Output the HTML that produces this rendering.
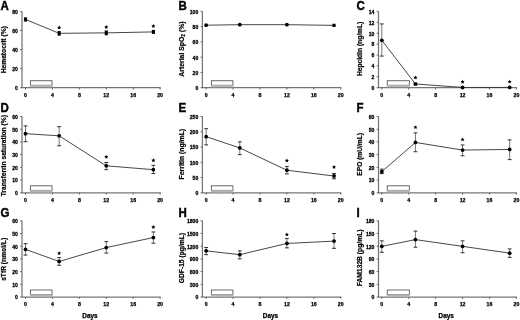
<!DOCTYPE html>
<html><head><meta charset="utf-8"><style>
html,body{margin:0;padding:0;background:#fff;}
svg{display:block;will-change:transform;}
text{font-family:"Liberation Sans",sans-serif;font-weight:bold;fill:#000;}
.L{font-size:11.5px;stroke:#000;stroke-width:0.4px;}
.Y{font-size:6.5px;stroke:#000;stroke-width:0.2px;}
.T{font-size:6.2px;stroke:#000;stroke-width:0.3px;}
.X{font-size:5.2px;stroke:#000;stroke-width:0.25px;}
.D{font-size:6.4px;stroke:#000;stroke-width:0.25px;}
.S{font-size:9px;}
.ax{fill:none;stroke:#767676;stroke-width:1.25;}
.tk{fill:none;stroke:#555;stroke-width:0.9;}
.bx{fill:#fff;stroke:#6a6a6a;stroke-width:1;}
.dl{fill:none;stroke:#333;stroke-width:0.9;}
.eb{fill:none;stroke:#555;stroke-width:0.8;}
.ec{fill:none;stroke:#222;stroke-width:0.95;}
.mk{fill:#000;}
</style></head><body>
<svg width="520" height="320" viewBox="0 0 520 320">
<rect width="520" height="320" fill="#fff"/>
<text transform="translate(0.5,9.6) scale(1,1.08)" class="L">A</text>
<text transform="translate(5.6,49.75000000000001) rotate(-90)" class="Y" text-anchor="middle" textLength="47.2" lengthAdjust="spacingAndGlyphs">Hematocrit (%)</text>
<path d="M22.0,11.4 V87.7 H160.70" class="ax"/>
<path d="M20.20,87.70 H22.0" class="tk"/>
<text x="17.90" y="90.05" class="T" text-anchor="end" textLength="2.84" lengthAdjust="spacingAndGlyphs">0</text>
<path d="M20.20,68.62 H22.0" class="tk"/>
<text x="17.90" y="70.97" class="T" text-anchor="end" textLength="5.68" lengthAdjust="spacingAndGlyphs">20</text>
<path d="M20.20,49.55 H22.0" class="tk"/>
<text x="17.90" y="51.90" class="T" text-anchor="end" textLength="5.68" lengthAdjust="spacingAndGlyphs">40</text>
<path d="M20.20,30.48 H22.0" class="tk"/>
<text x="17.90" y="32.83" class="T" text-anchor="end" textLength="5.68" lengthAdjust="spacingAndGlyphs">60</text>
<path d="M20.20,11.40 H22.0" class="tk"/>
<text x="17.90" y="13.75" class="T" text-anchor="end" textLength="5.68" lengthAdjust="spacingAndGlyphs">80</text>
<path d="M25.50,87.7 V89.50" class="tk"/>
<text x="25.50" y="97.00" class="X" text-anchor="middle">0</text>
<path d="M52.42,87.7 V89.50" class="tk"/>
<text x="52.42" y="97.00" class="X" text-anchor="middle">4</text>
<path d="M79.34,87.7 V89.50" class="tk"/>
<text x="79.34" y="97.00" class="X" text-anchor="middle">8</text>
<path d="M106.26,87.7 V89.50" class="tk"/>
<text x="106.26" y="97.00" class="X" text-anchor="middle">12</text>
<path d="M133.18,87.7 V89.50" class="tk"/>
<text x="133.18" y="97.00" class="X" text-anchor="middle">16</text>
<path d="M160.10,87.7 V89.50" class="tk"/>
<text x="160.10" y="97.00" class="X" text-anchor="middle">20</text>
<rect x="30.40" y="80.70" width="21.60" height="4.6" class="bx"/>
<rect x="29.90" y="85.00" width="22.60" height="2.3" fill="#b4b4b4"/>
<polyline points="25.50,19.41 59.15,33.34 106.26,32.86 153.37,31.91" class="dl"/>
<rect x="23.95" y="17.31" width="3.1" height="4.2" class="mk"/>
<rect x="57.60" y="31.04" width="3.1" height="4.6" class="mk"/>
<polygon points="59.15,25.55 59.77,26.80 61.15,27.00 60.15,27.97 60.38,29.35 59.15,28.70 57.92,29.35 58.15,27.97 57.15,27.00 58.53,26.80" fill="#000"/>
<rect x="104.71" y="30.46" width="3.1" height="4.8" class="mk"/>
<polygon points="106.26,25.05 106.88,26.30 108.26,26.50 107.26,27.47 107.49,28.85 106.26,28.20 105.03,28.85 105.26,27.47 104.26,26.50 105.64,26.30" fill="#000"/>
<rect x="151.82" y="29.91" width="3.1" height="4.0" class="mk"/>
<polygon points="153.37,24.05 153.99,25.30 155.37,25.50 154.37,26.47 154.60,27.85 153.37,27.20 152.14,27.85 152.37,26.47 151.37,25.50 152.75,25.30" fill="#000"/>
<text transform="translate(178.6,9.6) scale(1,1.08)" class="L">B</text>
<text transform="translate(183.7,49.050000000000004) rotate(-90)" class="Y" text-anchor="middle" textLength="55.2" lengthAdjust="spacingAndGlyphs">Arterial SpO<tspan font-size="4.6" dy="1.3">2</tspan><tspan dy="-1.3"> (%)</tspan></text>
<path d="M202.4,11.4 V87.7 H341.35" class="ax"/>
<path d="M200.60,87.70 H202.4" class="tk"/>
<text x="198.30" y="90.05" class="T" text-anchor="end" textLength="2.84" lengthAdjust="spacingAndGlyphs">0</text>
<path d="M200.60,72.44 H202.4" class="tk"/>
<text x="198.30" y="74.79" class="T" text-anchor="end" textLength="5.68" lengthAdjust="spacingAndGlyphs">20</text>
<path d="M200.60,57.18 H202.4" class="tk"/>
<text x="198.30" y="59.53" class="T" text-anchor="end" textLength="5.68" lengthAdjust="spacingAndGlyphs">40</text>
<path d="M200.60,41.92 H202.4" class="tk"/>
<text x="198.30" y="44.27" class="T" text-anchor="end" textLength="5.68" lengthAdjust="spacingAndGlyphs">60</text>
<path d="M200.60,26.66 H202.4" class="tk"/>
<text x="198.30" y="29.01" class="T" text-anchor="end" textLength="5.68" lengthAdjust="spacingAndGlyphs">80</text>
<path d="M200.60,11.40 H202.4" class="tk"/>
<text x="198.30" y="13.75" class="T" text-anchor="end" textLength="8.52" lengthAdjust="spacingAndGlyphs">100</text>
<path d="M206.15,87.7 V89.50" class="tk"/>
<text x="206.15" y="97.00" class="X" text-anchor="middle">0</text>
<path d="M233.07,87.7 V89.50" class="tk"/>
<text x="233.07" y="97.00" class="X" text-anchor="middle">4</text>
<path d="M259.99,87.7 V89.50" class="tk"/>
<text x="259.99" y="97.00" class="X" text-anchor="middle">8</text>
<path d="M286.91,87.7 V89.50" class="tk"/>
<text x="286.91" y="97.00" class="X" text-anchor="middle">12</text>
<path d="M313.83,87.7 V89.50" class="tk"/>
<text x="313.83" y="97.00" class="X" text-anchor="middle">16</text>
<path d="M340.75,87.7 V89.50" class="tk"/>
<text x="340.75" y="97.00" class="X" text-anchor="middle">20</text>
<rect x="211.40" y="80.70" width="21.50" height="4.6" class="bx"/>
<rect x="210.90" y="85.00" width="22.50" height="2.3" fill="#b4b4b4"/>
<polyline points="206.15,25.21 239.80,24.68 286.91,24.68 334.02,25.36" class="dl"/>
<circle cx="206.15" cy="25.21" r="1.9" class="mk"/>
<circle cx="239.80" cy="24.68" r="1.9" class="mk"/>
<circle cx="286.91" cy="24.68" r="1.9" class="mk"/>
<rect x="332.42" y="23.76" width="3.2" height="3.2" class="mk"/>
<text transform="translate(356.4,9.6) scale(1,1.08)" class="L">C</text>
<text transform="translate(361.5,48.900000000000006) rotate(-90)" class="Y" text-anchor="middle" textLength="54.4" lengthAdjust="spacingAndGlyphs">Hepcidin (ng/mL)</text>
<path d="M378.5,11.4 V87.7 H517.00" class="ax"/>
<path d="M376.70,87.70 H378.5" class="tk"/>
<text x="374.40" y="90.05" class="T" text-anchor="end" textLength="2.84" lengthAdjust="spacingAndGlyphs">0</text>
<path d="M376.70,76.80 H378.5" class="tk"/>
<text x="374.40" y="79.15" class="T" text-anchor="end" textLength="2.84" lengthAdjust="spacingAndGlyphs">2</text>
<path d="M376.70,65.90 H378.5" class="tk"/>
<text x="374.40" y="68.25" class="T" text-anchor="end" textLength="2.84" lengthAdjust="spacingAndGlyphs">4</text>
<path d="M376.70,55.00 H378.5" class="tk"/>
<text x="374.40" y="57.35" class="T" text-anchor="end" textLength="2.84" lengthAdjust="spacingAndGlyphs">6</text>
<path d="M376.70,44.10 H378.5" class="tk"/>
<text x="374.40" y="46.45" class="T" text-anchor="end" textLength="2.84" lengthAdjust="spacingAndGlyphs">8</text>
<path d="M376.70,33.20 H378.5" class="tk"/>
<text x="374.40" y="35.55" class="T" text-anchor="end" textLength="5.68" lengthAdjust="spacingAndGlyphs">10</text>
<path d="M376.70,22.30 H378.5" class="tk"/>
<text x="374.40" y="24.65" class="T" text-anchor="end" textLength="5.68" lengthAdjust="spacingAndGlyphs">12</text>
<path d="M376.70,11.40 H378.5" class="tk"/>
<text x="374.40" y="13.75" class="T" text-anchor="end" textLength="5.68" lengthAdjust="spacingAndGlyphs">14</text>
<path d="M381.80,87.7 V89.50" class="tk"/>
<text x="381.80" y="97.00" class="X" text-anchor="middle">0</text>
<path d="M408.72,87.7 V89.50" class="tk"/>
<text x="408.72" y="97.00" class="X" text-anchor="middle">4</text>
<path d="M435.64,87.7 V89.50" class="tk"/>
<text x="435.64" y="97.00" class="X" text-anchor="middle">8</text>
<path d="M462.56,87.7 V89.50" class="tk"/>
<text x="462.56" y="97.00" class="X" text-anchor="middle">12</text>
<path d="M489.48,87.7 V89.50" class="tk"/>
<text x="489.48" y="97.00" class="X" text-anchor="middle">16</text>
<path d="M516.40,87.7 V89.50" class="tk"/>
<text x="516.40" y="97.00" class="X" text-anchor="middle">20</text>
<rect x="387.30" y="80.70" width="22.10" height="4.6" class="bx"/>
<rect x="386.80" y="85.00" width="23.10" height="2.3" fill="#b4b4b4"/>
<polyline points="381.80,40.29 415.45,83.99 462.56,87.43 509.67,87.43" class="dl"/>
<path d="M381.80,23.94 V56.09" class="eb"/>
<path d="M379.90,23.94 H383.70 M379.90,56.09 H383.70" class="ec"/>
<circle cx="381.80" cy="40.29" r="1.9" class="mk"/>
<path d="M415.45,83.34 V84.98" class="eb"/>
<path d="M413.55,83.34 H417.35 M413.55,84.98 H417.35" class="ec"/>
<rect x="413.85" y="82.39" width="3.2" height="3.2" class="mk"/>
<polygon points="415.45,75.55 416.07,76.80 417.45,77.00 416.45,77.97 416.68,79.35 415.45,78.70 414.22,79.35 414.45,77.97 413.45,77.00 414.83,76.80" fill="#000"/>
<circle cx="462.56" cy="87.43" r="1.9" class="mk"/>
<polygon points="462.56,79.85 463.18,81.10 464.56,81.30 463.56,82.27 463.79,83.65 462.56,83.00 461.33,83.65 461.56,82.27 460.56,81.30 461.94,81.10" fill="#000"/>
<circle cx="509.67" cy="87.43" r="1.9" class="mk"/>
<polygon points="509.67,79.65 510.29,80.90 511.67,81.10 510.67,82.07 510.90,83.45 509.67,82.80 508.44,83.45 508.67,82.07 507.67,81.10 509.05,80.90" fill="#000"/>
<text transform="translate(0.5,111.9) scale(1,1.08)" class="L">D</text>
<text transform="translate(5.6,155.70000000000002) rotate(-90)" class="Y" text-anchor="middle" textLength="81.3" lengthAdjust="spacingAndGlyphs">Transferrin saturation (%)</text>
<path d="M22.0,116.5 V192.8 H160.70" class="ax"/>
<path d="M20.20,192.80 H22.0" class="tk"/>
<text x="17.90" y="195.15" class="T" text-anchor="end" textLength="2.84" lengthAdjust="spacingAndGlyphs">0</text>
<path d="M20.20,180.08 H22.0" class="tk"/>
<text x="17.90" y="182.43" class="T" text-anchor="end" textLength="5.68" lengthAdjust="spacingAndGlyphs">10</text>
<path d="M20.20,167.37 H22.0" class="tk"/>
<text x="17.90" y="169.72" class="T" text-anchor="end" textLength="5.68" lengthAdjust="spacingAndGlyphs">20</text>
<path d="M20.20,154.65 H22.0" class="tk"/>
<text x="17.90" y="157.00" class="T" text-anchor="end" textLength="5.68" lengthAdjust="spacingAndGlyphs">30</text>
<path d="M20.20,141.93 H22.0" class="tk"/>
<text x="17.90" y="144.28" class="T" text-anchor="end" textLength="5.68" lengthAdjust="spacingAndGlyphs">40</text>
<path d="M20.20,129.22 H22.0" class="tk"/>
<text x="17.90" y="131.57" class="T" text-anchor="end" textLength="5.68" lengthAdjust="spacingAndGlyphs">50</text>
<path d="M20.20,116.50 H22.0" class="tk"/>
<text x="17.90" y="118.85" class="T" text-anchor="end" textLength="5.68" lengthAdjust="spacingAndGlyphs">60</text>
<path d="M25.50,192.8 V194.60" class="tk"/>
<text x="25.50" y="202.10" class="X" text-anchor="middle">0</text>
<path d="M52.42,192.8 V194.60" class="tk"/>
<text x="52.42" y="202.10" class="X" text-anchor="middle">4</text>
<path d="M79.34,192.8 V194.60" class="tk"/>
<text x="79.34" y="202.10" class="X" text-anchor="middle">8</text>
<path d="M106.26,192.8 V194.60" class="tk"/>
<text x="106.26" y="202.10" class="X" text-anchor="middle">12</text>
<path d="M133.18,192.8 V194.60" class="tk"/>
<text x="133.18" y="202.10" class="X" text-anchor="middle">16</text>
<path d="M160.10,192.8 V194.60" class="tk"/>
<text x="160.10" y="202.10" class="X" text-anchor="middle">20</text>
<rect x="30.40" y="185.80" width="21.60" height="4.6" class="bx"/>
<rect x="29.90" y="190.10" width="22.60" height="2.3" fill="#b4b4b4"/>
<polyline points="25.50,133.67 59.15,135.83 106.26,165.84 153.37,169.66" class="dl"/>
<path d="M25.50,125.91 V141.68" class="eb"/>
<path d="M23.60,125.91 H27.40 M23.60,141.68 H27.40" class="ec"/>
<circle cx="25.50" cy="133.67" r="1.9" class="mk"/>
<path d="M59.15,126.67 V145.75" class="eb"/>
<path d="M57.25,126.67 H61.05 M57.25,145.75 H61.05" class="ec"/>
<circle cx="59.15" cy="135.83" r="1.9" class="mk"/>
<path d="M106.26,162.53 V169.66" class="eb"/>
<path d="M104.36,162.53 H108.16 M104.36,169.66 H108.16" class="ec"/>
<circle cx="106.26" cy="165.84" r="1.9" class="mk"/>
<polygon points="106.26,154.75 106.88,156.00 108.26,156.20 107.26,157.17 107.49,158.55 106.26,157.90 105.03,158.55 105.26,157.17 104.26,156.20 105.64,156.00" fill="#000"/>
<path d="M153.37,165.33 V173.47" class="eb"/>
<path d="M151.47,165.33 H155.27 M151.47,173.47 H155.27" class="ec"/>
<circle cx="153.37" cy="169.66" r="1.9" class="mk"/>
<polygon points="153.37,158.35 153.99,159.60 155.37,159.80 154.37,160.77 154.60,162.15 153.37,161.50 152.14,162.15 152.37,160.77 151.37,159.80 152.75,159.60" fill="#000"/>
<text transform="translate(178.6,111.9) scale(1,1.08)" class="L">E</text>
<text transform="translate(183.7,154.15) rotate(-90)" class="Y" text-anchor="middle" textLength="50.5" lengthAdjust="spacingAndGlyphs">Ferritin (ng/mL)</text>
<path d="M202.4,116.5 V192.8 H341.35" class="ax"/>
<path d="M200.60,192.80 H202.4" class="tk"/>
<text x="198.30" y="195.15" class="T" text-anchor="end" textLength="2.84" lengthAdjust="spacingAndGlyphs">0</text>
<path d="M200.60,177.54 H202.4" class="tk"/>
<text x="198.30" y="179.89" class="T" text-anchor="end" textLength="5.68" lengthAdjust="spacingAndGlyphs">50</text>
<path d="M200.60,162.28 H202.4" class="tk"/>
<text x="198.30" y="164.63" class="T" text-anchor="end" textLength="8.52" lengthAdjust="spacingAndGlyphs">100</text>
<path d="M200.60,147.02 H202.4" class="tk"/>
<text x="198.30" y="149.37" class="T" text-anchor="end" textLength="8.52" lengthAdjust="spacingAndGlyphs">150</text>
<path d="M200.60,131.76 H202.4" class="tk"/>
<text x="198.30" y="134.11" class="T" text-anchor="end" textLength="8.52" lengthAdjust="spacingAndGlyphs">200</text>
<path d="M200.60,116.50 H202.4" class="tk"/>
<text x="198.30" y="118.85" class="T" text-anchor="end" textLength="8.52" lengthAdjust="spacingAndGlyphs">250</text>
<path d="M206.15,192.8 V194.60" class="tk"/>
<text x="206.15" y="202.10" class="X" text-anchor="middle">0</text>
<path d="M233.07,192.8 V194.60" class="tk"/>
<text x="233.07" y="202.10" class="X" text-anchor="middle">4</text>
<path d="M259.99,192.8 V194.60" class="tk"/>
<text x="259.99" y="202.10" class="X" text-anchor="middle">8</text>
<path d="M286.91,192.8 V194.60" class="tk"/>
<text x="286.91" y="202.10" class="X" text-anchor="middle">12</text>
<path d="M313.83,192.8 V194.60" class="tk"/>
<text x="313.83" y="202.10" class="X" text-anchor="middle">16</text>
<path d="M340.75,192.8 V194.60" class="tk"/>
<text x="340.75" y="202.10" class="X" text-anchor="middle">20</text>
<rect x="211.40" y="185.80" width="21.50" height="4.6" class="bx"/>
<rect x="210.90" y="190.10" width="22.50" height="2.3" fill="#b4b4b4"/>
<polyline points="206.15,136.64 239.80,147.94 286.91,170.22 334.02,176.01" class="dl"/>
<path d="M206.15,128.71 V144.88" class="eb"/>
<path d="M204.25,128.71 H208.05 M204.25,144.88 H208.05" class="ec"/>
<circle cx="206.15" cy="136.64" r="1.9" class="mk"/>
<path d="M239.80,141.83 V154.65" class="eb"/>
<path d="M237.90,141.83 H241.70 M237.90,154.65 H241.70" class="ec"/>
<circle cx="239.80" cy="147.94" r="1.9" class="mk"/>
<path d="M286.91,166.55 V173.88" class="eb"/>
<path d="M285.01,166.55 H288.81 M285.01,173.88 H288.81" class="ec"/>
<circle cx="286.91" cy="170.22" r="1.9" class="mk"/>
<polygon points="286.91,158.55 287.53,159.80 288.91,160.00 287.91,160.97 288.14,162.35 286.91,161.70 285.68,162.35 285.91,160.97 284.91,160.00 286.29,159.80" fill="#000"/>
<path d="M334.02,173.57 V178.76" class="eb"/>
<path d="M332.12,173.57 H335.92 M332.12,178.76 H335.92" class="ec"/>
<circle cx="334.02" cy="176.01" r="1.9" class="mk"/>
<polygon points="334.02,165.05 334.64,166.30 336.02,166.50 335.02,167.47 335.25,168.85 334.02,168.20 332.79,168.85 333.02,167.47 332.02,166.50 333.40,166.30" fill="#000"/>
<text transform="translate(356.4,111.9) scale(1,1.08)" class="L">F</text>
<text transform="translate(361.5,154.35) rotate(-90)" class="Y" text-anchor="middle" textLength="42.65" lengthAdjust="spacingAndGlyphs">EPO (mU/mL)</text>
<path d="M378.5,116.5 V192.8 H517.00" class="ax"/>
<path d="M376.70,192.80 H378.5" class="tk"/>
<text x="374.40" y="195.15" class="T" text-anchor="end" textLength="2.84" lengthAdjust="spacingAndGlyphs">0</text>
<path d="M376.70,180.08 H378.5" class="tk"/>
<text x="374.40" y="182.43" class="T" text-anchor="end" textLength="5.68" lengthAdjust="spacingAndGlyphs">10</text>
<path d="M376.70,167.37 H378.5" class="tk"/>
<text x="374.40" y="169.72" class="T" text-anchor="end" textLength="5.68" lengthAdjust="spacingAndGlyphs">20</text>
<path d="M376.70,154.65 H378.5" class="tk"/>
<text x="374.40" y="157.00" class="T" text-anchor="end" textLength="5.68" lengthAdjust="spacingAndGlyphs">30</text>
<path d="M376.70,141.93 H378.5" class="tk"/>
<text x="374.40" y="144.28" class="T" text-anchor="end" textLength="5.68" lengthAdjust="spacingAndGlyphs">40</text>
<path d="M376.70,129.22 H378.5" class="tk"/>
<text x="374.40" y="131.57" class="T" text-anchor="end" textLength="5.68" lengthAdjust="spacingAndGlyphs">50</text>
<path d="M376.70,116.50 H378.5" class="tk"/>
<text x="374.40" y="118.85" class="T" text-anchor="end" textLength="5.68" lengthAdjust="spacingAndGlyphs">60</text>
<path d="M381.80,192.8 V194.60" class="tk"/>
<text x="381.80" y="202.10" class="X" text-anchor="middle">0</text>
<path d="M408.72,192.8 V194.60" class="tk"/>
<text x="408.72" y="202.10" class="X" text-anchor="middle">4</text>
<path d="M435.64,192.8 V194.60" class="tk"/>
<text x="435.64" y="202.10" class="X" text-anchor="middle">8</text>
<path d="M462.56,192.8 V194.60" class="tk"/>
<text x="462.56" y="202.10" class="X" text-anchor="middle">12</text>
<path d="M489.48,192.8 V194.60" class="tk"/>
<text x="489.48" y="202.10" class="X" text-anchor="middle">16</text>
<path d="M516.40,192.8 V194.60" class="tk"/>
<text x="516.40" y="202.10" class="X" text-anchor="middle">20</text>
<rect x="387.30" y="185.80" width="22.10" height="4.6" class="bx"/>
<rect x="386.80" y="190.10" width="23.10" height="2.3" fill="#b4b4b4"/>
<polyline points="381.80,171.69 415.45,142.44 462.56,150.07 509.67,149.44" class="dl"/>
<path d="M381.80,169.15 V173.60" class="eb"/>
<path d="M379.90,169.15 H383.70 M379.90,173.60 H383.70" class="ec"/>
<circle cx="381.80" cy="171.69" r="1.9" class="mk"/>
<path d="M415.45,132.90 V151.73" class="eb"/>
<path d="M413.55,132.90 H417.35 M413.55,151.73 H417.35" class="ec"/>
<circle cx="415.45" cy="142.44" r="1.9" class="mk"/>
<polygon points="415.45,125.15 416.07,126.40 417.45,126.60 416.45,127.57 416.68,128.95 415.45,128.30 414.22,128.95 414.45,127.57 413.45,126.60 414.83,126.40" fill="#000"/>
<path d="M462.56,144.99 V155.79" class="eb"/>
<path d="M460.66,144.99 H464.46 M460.66,155.79 H464.46" class="ec"/>
<circle cx="462.56" cy="150.07" r="1.9" class="mk"/>
<polygon points="462.56,137.45 463.18,138.70 464.56,138.90 463.56,139.87 463.79,141.25 462.56,140.60 461.33,141.25 461.56,139.87 460.56,138.90 461.94,138.70" fill="#000"/>
<path d="M509.67,139.90 V159.61" class="eb"/>
<path d="M507.77,139.90 H511.57 M507.77,159.61 H511.57" class="ec"/>
<circle cx="509.67" cy="149.44" r="1.9" class="mk"/>
<text transform="translate(0.5,217.45) scale(1,1.08)" class="L">G</text>
<text transform="translate(5.6,259.34999999999997) rotate(-90)" class="Y" text-anchor="middle" textLength="43" lengthAdjust="spacingAndGlyphs">sTfR (nmol/L)</text>
<path d="M22.0,220.8 V297.0 H160.70" class="ax"/>
<path d="M20.20,297.00 H22.0" class="tk"/>
<text x="17.90" y="299.35" class="T" text-anchor="end" textLength="2.84" lengthAdjust="spacingAndGlyphs">0</text>
<path d="M20.20,284.30 H22.0" class="tk"/>
<text x="17.90" y="286.65" class="T" text-anchor="end" textLength="5.68" lengthAdjust="spacingAndGlyphs">10</text>
<path d="M20.20,271.60 H22.0" class="tk"/>
<text x="17.90" y="273.95" class="T" text-anchor="end" textLength="5.68" lengthAdjust="spacingAndGlyphs">20</text>
<path d="M20.20,258.90 H22.0" class="tk"/>
<text x="17.90" y="261.25" class="T" text-anchor="end" textLength="5.68" lengthAdjust="spacingAndGlyphs">30</text>
<path d="M20.20,246.20 H22.0" class="tk"/>
<text x="17.90" y="248.55" class="T" text-anchor="end" textLength="5.68" lengthAdjust="spacingAndGlyphs">40</text>
<path d="M20.20,233.50 H22.0" class="tk"/>
<text x="17.90" y="235.85" class="T" text-anchor="end" textLength="5.68" lengthAdjust="spacingAndGlyphs">50</text>
<path d="M20.20,220.80 H22.0" class="tk"/>
<text x="17.90" y="223.15" class="T" text-anchor="end" textLength="5.68" lengthAdjust="spacingAndGlyphs">60</text>
<path d="M25.50,297.0 V298.80" class="tk"/>
<text x="25.50" y="306.30" class="X" text-anchor="middle">0</text>
<path d="M52.42,297.0 V298.80" class="tk"/>
<text x="52.42" y="306.30" class="X" text-anchor="middle">4</text>
<path d="M79.34,297.0 V298.80" class="tk"/>
<text x="79.34" y="306.30" class="X" text-anchor="middle">8</text>
<path d="M106.26,297.0 V298.80" class="tk"/>
<text x="106.26" y="306.30" class="X" text-anchor="middle">12</text>
<path d="M133.18,297.0 V298.80" class="tk"/>
<text x="133.18" y="306.30" class="X" text-anchor="middle">16</text>
<path d="M160.10,297.0 V298.80" class="tk"/>
<text x="160.10" y="306.30" class="X" text-anchor="middle">20</text>
<rect x="30.40" y="290.00" width="21.60" height="4.6" class="bx"/>
<rect x="29.90" y="294.30" width="22.60" height="2.3" fill="#b4b4b4"/>
<polyline points="25.50,249.38 59.15,261.44 106.26,247.60 153.37,237.56" class="dl"/>
<path d="M25.50,243.66 V255.09" class="eb"/>
<path d="M23.60,243.66 H27.40 M23.60,255.09 H27.40" class="ec"/>
<circle cx="25.50" cy="249.38" r="1.9" class="mk"/>
<path d="M59.15,257.63 V265.25" class="eb"/>
<path d="M57.25,257.63 H61.05 M57.25,265.25 H61.05" class="ec"/>
<circle cx="59.15" cy="261.44" r="1.9" class="mk"/>
<polygon points="59.15,251.15 59.77,252.40 61.15,252.60 60.15,253.57 60.38,254.95 59.15,254.30 57.92,254.95 58.15,253.57 57.15,252.60 58.53,252.40" fill="#000"/>
<path d="M106.26,241.63 V253.06" class="eb"/>
<path d="M104.36,241.63 H108.16 M104.36,253.06 H108.16" class="ec"/>
<circle cx="106.26" cy="247.60" r="1.9" class="mk"/>
<path d="M153.37,231.98 V243.15" class="eb"/>
<path d="M151.47,231.98 H155.27 M151.47,243.15 H155.27" class="ec"/>
<circle cx="153.37" cy="237.56" r="1.9" class="mk"/>
<polygon points="153.37,225.05 153.99,226.30 155.37,226.50 154.37,227.47 154.60,228.85 153.37,228.20 152.14,228.85 152.37,227.47 151.37,226.50 152.75,226.30" fill="#000"/>
<text transform="translate(178.6,217.45) scale(1,1.08)" class="L">H</text>
<text transform="translate(183.7,258.09999999999997) rotate(-90)" class="Y" text-anchor="middle" textLength="50.35" lengthAdjust="spacingAndGlyphs">GDF-15 (pg/mL)</text>
<path d="M202.4,220.8 V297.0 H341.35" class="ax"/>
<path d="M200.60,297.00 H202.4" class="tk"/>
<text x="198.30" y="299.35" class="T" text-anchor="end" textLength="2.84" lengthAdjust="spacingAndGlyphs">0</text>
<path d="M200.60,284.30 H202.4" class="tk"/>
<text x="198.30" y="286.65" class="T" text-anchor="end" textLength="8.52" lengthAdjust="spacingAndGlyphs">300</text>
<path d="M200.60,271.60 H202.4" class="tk"/>
<text x="198.30" y="273.95" class="T" text-anchor="end" textLength="8.52" lengthAdjust="spacingAndGlyphs">600</text>
<path d="M200.60,258.90 H202.4" class="tk"/>
<text x="198.30" y="261.25" class="T" text-anchor="end" textLength="8.52" lengthAdjust="spacingAndGlyphs">900</text>
<path d="M200.60,246.20 H202.4" class="tk"/>
<text x="198.30" y="248.55" class="T" text-anchor="end" textLength="11.36" lengthAdjust="spacingAndGlyphs">1200</text>
<path d="M200.60,233.50 H202.4" class="tk"/>
<text x="198.30" y="235.85" class="T" text-anchor="end" textLength="11.36" lengthAdjust="spacingAndGlyphs">1500</text>
<path d="M200.60,220.80 H202.4" class="tk"/>
<text x="198.30" y="223.15" class="T" text-anchor="end" textLength="11.36" lengthAdjust="spacingAndGlyphs">1800</text>
<path d="M206.15,297.0 V298.80" class="tk"/>
<text x="206.15" y="306.30" class="X" text-anchor="middle">0</text>
<path d="M233.07,297.0 V298.80" class="tk"/>
<text x="233.07" y="306.30" class="X" text-anchor="middle">4</text>
<path d="M259.99,297.0 V298.80" class="tk"/>
<text x="259.99" y="306.30" class="X" text-anchor="middle">8</text>
<path d="M286.91,297.0 V298.80" class="tk"/>
<text x="286.91" y="306.30" class="X" text-anchor="middle">12</text>
<path d="M313.83,297.0 V298.80" class="tk"/>
<text x="313.83" y="306.30" class="X" text-anchor="middle">16</text>
<path d="M340.75,297.0 V298.80" class="tk"/>
<text x="340.75" y="306.30" class="X" text-anchor="middle">20</text>
<rect x="211.40" y="290.00" width="21.50" height="4.6" class="bx"/>
<rect x="210.90" y="294.30" width="22.50" height="2.3" fill="#b4b4b4"/>
<polyline points="206.15,250.86 239.80,254.67 286.91,243.45 334.02,241.12" class="dl"/>
<path d="M206.15,247.47 V254.67" class="eb"/>
<path d="M204.25,247.47 H208.05 M204.25,254.67 H208.05" class="ec"/>
<circle cx="206.15" cy="250.86" r="1.9" class="mk"/>
<path d="M239.80,250.86 V258.90" class="eb"/>
<path d="M237.90,250.86 H241.70 M237.90,258.90 H241.70" class="ec"/>
<circle cx="239.80" cy="254.67" r="1.9" class="mk"/>
<path d="M286.91,238.58 V247.89" class="eb"/>
<path d="M285.01,238.58 H288.81 M285.01,247.89 H288.81" class="ec"/>
<circle cx="286.91" cy="243.45" r="1.9" class="mk"/>
<polygon points="286.91,232.45 287.53,233.70 288.91,233.90 287.91,234.87 288.14,236.25 286.91,235.60 285.68,236.25 285.91,234.87 284.91,233.90 286.29,233.70" fill="#000"/>
<path d="M334.02,233.50 V248.32" class="eb"/>
<path d="M332.12,233.50 H335.92 M332.12,248.32 H335.92" class="ec"/>
<circle cx="334.02" cy="241.12" r="1.9" class="mk"/>
<text transform="translate(356.4,217.45) scale(1,1.08)" class="L">I</text>
<text transform="translate(361.5,257.9) rotate(-90)" class="Y" text-anchor="middle" textLength="56.8" lengthAdjust="spacingAndGlyphs">FAM132B (pg/mL)</text>
<path d="M378.5,220.8 V297.0 H517.00" class="ax"/>
<path d="M376.70,297.00 H378.5" class="tk"/>
<text x="374.40" y="299.35" class="T" text-anchor="end" textLength="2.84" lengthAdjust="spacingAndGlyphs">0</text>
<path d="M376.70,284.30 H378.5" class="tk"/>
<text x="374.40" y="286.65" class="T" text-anchor="end" textLength="5.68" lengthAdjust="spacingAndGlyphs">30</text>
<path d="M376.70,271.60 H378.5" class="tk"/>
<text x="374.40" y="273.95" class="T" text-anchor="end" textLength="5.68" lengthAdjust="spacingAndGlyphs">60</text>
<path d="M376.70,258.90 H378.5" class="tk"/>
<text x="374.40" y="261.25" class="T" text-anchor="end" textLength="5.68" lengthAdjust="spacingAndGlyphs">90</text>
<path d="M376.70,246.20 H378.5" class="tk"/>
<text x="374.40" y="248.55" class="T" text-anchor="end" textLength="8.52" lengthAdjust="spacingAndGlyphs">120</text>
<path d="M376.70,233.50 H378.5" class="tk"/>
<text x="374.40" y="235.85" class="T" text-anchor="end" textLength="8.52" lengthAdjust="spacingAndGlyphs">150</text>
<path d="M376.70,220.80 H378.5" class="tk"/>
<text x="374.40" y="223.15" class="T" text-anchor="end" textLength="8.52" lengthAdjust="spacingAndGlyphs">180</text>
<path d="M381.80,297.0 V298.80" class="tk"/>
<text x="381.80" y="306.30" class="X" text-anchor="middle">0</text>
<path d="M408.72,297.0 V298.80" class="tk"/>
<text x="408.72" y="306.30" class="X" text-anchor="middle">4</text>
<path d="M435.64,297.0 V298.80" class="tk"/>
<text x="435.64" y="306.30" class="X" text-anchor="middle">8</text>
<path d="M462.56,297.0 V298.80" class="tk"/>
<text x="462.56" y="306.30" class="X" text-anchor="middle">12</text>
<path d="M489.48,297.0 V298.80" class="tk"/>
<text x="489.48" y="306.30" class="X" text-anchor="middle">16</text>
<path d="M516.40,297.0 V298.80" class="tk"/>
<text x="516.40" y="306.30" class="X" text-anchor="middle">20</text>
<rect x="387.30" y="290.00" width="22.10" height="4.6" class="bx"/>
<rect x="386.80" y="294.30" width="23.10" height="2.3" fill="#b4b4b4"/>
<polyline points="381.80,246.37 415.45,239.60 462.56,246.37 509.67,253.14" class="dl"/>
<path d="M381.80,240.87 V252.30" class="eb"/>
<path d="M379.90,240.87 H383.70 M379.90,252.30 H383.70" class="ec"/>
<circle cx="381.80" cy="246.37" r="1.9" class="mk"/>
<path d="M415.45,231.13 V247.22" class="eb"/>
<path d="M413.55,231.13 H417.35 M413.55,247.22 H417.35" class="ec"/>
<circle cx="415.45" cy="239.60" r="1.9" class="mk"/>
<path d="M462.56,240.87 V252.72" class="eb"/>
<path d="M460.66,240.87 H464.46 M460.66,252.72 H464.46" class="ec"/>
<circle cx="462.56" cy="246.37" r="1.9" class="mk"/>
<path d="M509.67,248.91 V257.38" class="eb"/>
<path d="M507.77,248.91 H511.57 M507.77,257.38 H511.57" class="ec"/>
<circle cx="509.67" cy="253.14" r="1.9" class="mk"/>
<text x="90.0" y="317.6" class="D" text-anchor="middle">Days</text>
<text x="270.5" y="317.6" class="D" text-anchor="middle">Days</text>
<text x="446.2" y="317.6" class="D" text-anchor="middle">Days</text>
</svg>
</body></html>
